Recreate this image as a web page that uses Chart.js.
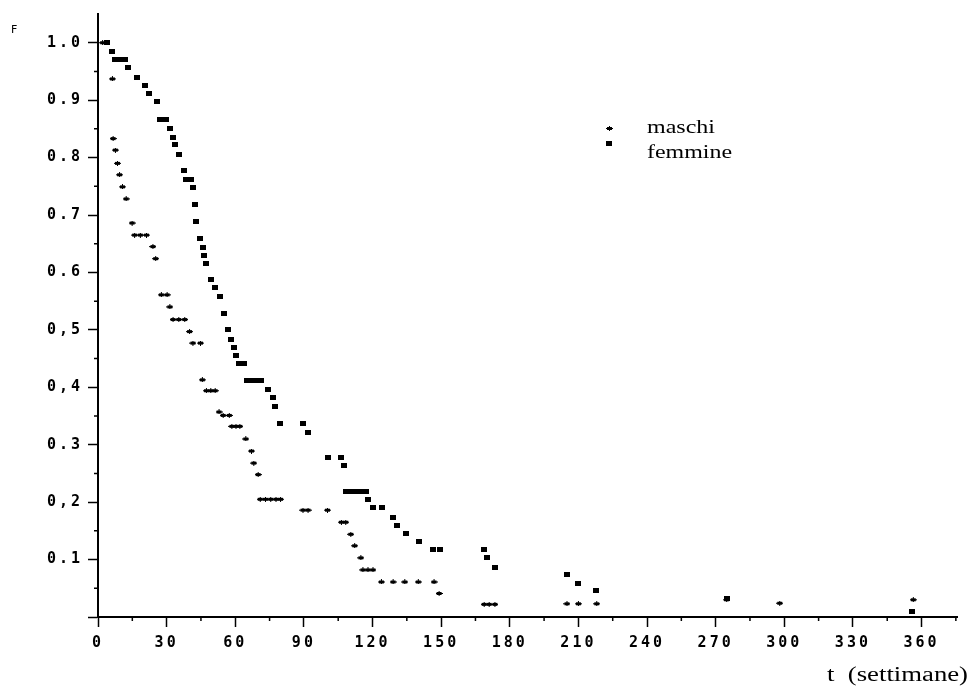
<!DOCTYPE html>
<html>
<head>
<meta charset="utf-8">
<script src="https://cdn.jsdelivr.net/npm/chart.js@4/dist/chart.umd.min.js"></script>
<style>
  body { margin: 0; background: #fff; }
  canvas { display: block; }
</style>
</head>
<body>
<canvas id="grafico" width="971" height="686"></canvas>
<script>
// tempi (settimane) e valori di F
const maschiT = [2, 6.3, 6.6, 7.6, 8.5, 9.4, 10.7, 12.3, 14.9, 16, 18.5, 21.2, 24, 25.2, 27.7, 30.2, 31.4,
  32.8, 35.3, 37.9, 40, 41.5, 44.8, 45.6, 47.4, 49.3, 51.2, 52.9, 54.7, 57.4, 58.5, 60.3, 62, 64.6, 67.1,
  68.1, 70, 70.9, 73.2, 75.5, 77.8, 79.8, 89.6, 91.8, 100.3, 106.4, 108.3, 110.5, 112.2, 114.9, 115.8,
  118, 120.2, 123.9, 129, 134.1, 140, 146.9, 149.1, 168.8, 171, 173.5, 205, 210, 218, 274.8, 298, 356.4];
const maschiF = [1.0, 0.937, 0.833, 0.813, 0.790, 0.770, 0.749, 0.728, 0.686, 0.665, 0.665, 0.665, 0.645,
  0.624, 0.561, 0.561, 0.540, 0.518, 0.518, 0.518, 0.497, 0.477, 0.477, 0.413, 0.394, 0.394, 0.394, 0.357,
  0.351, 0.351, 0.332, 0.332, 0.332, 0.310, 0.289, 0.268, 0.248, 0.205, 0.205, 0.205, 0.205, 0.205, 0.186,
  0.186, 0.186, 0.165, 0.165, 0.144, 0.124, 0.103, 0.082, 0.082, 0.082, 0.061, 0.061, 0.061, 0.061, 0.061,
  0.041, 0.022, 0.022, 0.022, 0.023, 0.023, 0.023, 0.030, 0.024, 0.030];

const femmineT = [4, 6.1, 7.3, 9.5, 11.7, 12.9, 17.1, 20.4, 22.3, 25.8, 27, 29.6, 31.4, 32.8, 33.8, 35.4,
  37.5, 38.4, 40.8, 41.5, 42.2, 42.9, 44.6, 45.7, 46.5, 47.4, 49.4, 51.2, 53.2, 55.1, 56.7, 58.3, 59.3,
  60.5, 61.7, 64, 65.2, 67.2, 69.3, 71.4, 74.3, 76.5, 77.3, 79.7, 89.6, 91.8, 100.6, 106.4, 107.4, 108.2,
  110.4, 112.6, 114.8, 117, 118, 120.2, 124.3, 129, 130.5, 134.5, 140.4, 146.5, 149.4, 168.8, 170.1,
  173.5, 205, 209.9, 217.9, 274.8, 356];
const femmineF = [1.0, 0.985, 0.971, 0.971, 0.971, 0.957, 0.940, 0.925, 0.911, 0.897, 0.867, 0.867, 0.851,
  0.835, 0.822, 0.806, 0.777, 0.762, 0.762, 0.748, 0.719, 0.688, 0.659, 0.643, 0.630, 0.616, 0.587, 0.573,
  0.558, 0.528, 0.501, 0.484, 0.470, 0.455, 0.441, 0.441, 0.412, 0.412, 0.412, 0.412, 0.397, 0.383, 0.366,
  0.337, 0.337, 0.322, 0.278, 0.278, 0.264, 0.219, 0.219, 0.219, 0.219, 0.219, 0.204, 0.190, 0.190, 0.174,
  0.159, 0.146, 0.131, 0.117, 0.117, 0.117, 0.103, 0.087, 0.074, 0.059, 0.046, 0.032, 0.010];

// etichette degli assi (come stampate, virgole comprese)
const xTickVal = [0, 30, 60, 90, 120, 150, 180, 210, 240, 270, 300, 330, 360];
const xTickLab = ['0', '30', '60', '90', '120', '150', '180', '210', '240', '270', '300', '330', '360'];
const yTickVal = [0, 0.1, 0.2, 0.3, 0.4, 0.5, 0.6, 0.7, 0.8, 0.9, 1.0];
const yTickLab = ['', '0.1', '0,2', '0.3', '0,4', '0,5', '0.6', '0.7', '0.8', '0.9', '1.0'];
const xMinor = [15, 45, 75, 105, 135, 165, 195, 225, 255, 285, 315, 345, 375];
const yMinor = [0.05, 0.15, 0.25, 0.35, 0.45, 0.55, 0.65, 0.75, 0.85, 0.95];

function marcatore(w, h, disegna) {
  const c = document.createElement('canvas');
  c.width = w; c.height = h;
  const g = c.getContext('2d');
  g.fillStyle = '#000';
  disegna(g);
  return c;
}
const puntoM = marcatore(7, 5, g => {
  g.fillRect(0, 2, 7, 1);
  g.fillRect(1, 1, 5, 3);
  g.fillRect(3, 0, 1, 5);
});
const puntoF = marcatore(6, 5, g => {
  g.fillRect(0, 0, 6, 5);
});

function etichetta(val, lab) {
  return function (v) {
    const i = val.findIndex(t => Math.abs(t - v) < 1e-6);
    return i >= 0 ? lab[i] : '';
  };
}

function testoLargo(ctx, txt, x, y, w, font) {
  ctx.save();
  ctx.font = font;
  const m = ctx.measureText(txt).width;
  ctx.translate(x, y);
  ctx.scale(w / m, 1);
  ctx.fillText(txt, 0, 0);
  ctx.restore();
}

const decorazioni = {
  id: 'decorazioni',
  beforeDraw(chart) {
    chart.ctx.letterSpacing = '3px';
  },
  afterDraw(chart) {
    const ctx = chart.ctx;
    const xs = chart.scales.x, ys = chart.scales.y;
    const area = chart.chartArea;
    ctx.save();
    ctx.letterSpacing = '0px';
    ctx.strokeStyle = '#000';
    ctx.lineWidth = 1.5;
    ctx.beginPath();
    xMinor.forEach(v => {
      const px = xs.getPixelForValue(v);
      ctx.moveTo(px, area.bottom);
      ctx.lineTo(px, area.bottom + 4);
    });
    yMinor.forEach(v => {
      const py = ys.getPixelForValue(v);
      ctx.moveTo(area.left, py);
      ctx.lineTo(area.left - 4, py);
    });
    ctx.stroke();

    ctx.fillStyle = '#000';
    ctx.font = '11px "DejaVu Sans"';
    ctx.textBaseline = 'alphabetic';
    ctx.fillText('F', 11, 33);

    // legenda
    ctx.drawImage(puntoM, 606, 126);
    ctx.drawImage(puntoF, 606, 141);
    testoLargo(ctx, 'maschi', 647, 133, 68, '19px "Liberation Serif"');
    testoLargo(ctx, 'femmine', 647, 158, 85, '19px "Liberation Serif"');

    testoLargo(ctx, 't  (settimane)', 827, 681, 141, '20px "Liberation Serif"');
    ctx.restore();
  }
};

const ctx1 = document.querySelector('#grafico').getContext('2d');

new Chart(ctx1, {
  type: 'scatter',
  data: {
    datasets: [{
      label: 'maschi',
      data: maschiT.map((t, i) => ({ x: t, y: maschiF[i] })),
      pointStyle: puntoM,
      pointRadius: 3
    }, {
      label: 'femmine',
      data: femmineT.map((t, i) => ({ x: t, y: femmineF[i] })),
      pointStyle: puntoF,
      pointRadius: 3
    }]
  },
  options: {
    responsive: false,
    animation: false,
    devicePixelRatio: 1,
    layout: { padding: { top: 13, right: 14, left: 0, bottom: 0 } },
    plugins: { legend: { display: false }, tooltip: { enabled: false } },
    scales: {
      x: {
        type: 'linear',
        min: 0,
        max: 375.5,
        afterBuildTicks: s => { s.ticks = xTickVal.map(v => ({ value: v })); },
        afterFit: s => { s.height = 69; },
        border: { color: '#000', width: 2 },
        grid: { drawOnChartArea: false, tickLength: 10, tickWidth: 1.5, tickColor: '#000' },
        ticks: {
          padding: 7,
          color: '#000',
          maxRotation: 0,
          autoSkip: false,
          font: { family: '"DejaVu Sans Mono"', size: 15, weight: 'bold' },
          callback: etichetta(xTickVal, xTickLab)
        }
      },
      y: {
        type: 'linear',
        min: 0,
        max: 1.05,
        afterBuildTicks: s => { s.ticks = yTickVal.map(v => ({ value: v })); },
        afterFit: s => { s.width = 98; },
        border: { color: '#000', width: 2 },
        grid: { drawOnChartArea: false, tickLength: 10, tickWidth: 1.5, tickColor: '#000' },
        ticks: {
          padding: 5,
          color: '#000',
          autoSkip: false,
          font: { family: '"DejaVu Sans Mono"', size: 15, weight: 'bold' },
          callback: etichetta(yTickVal, yTickLab)
        }
      }
    }
  },
  plugins: [decorazioni]
});
</script>
</body>
</html>
